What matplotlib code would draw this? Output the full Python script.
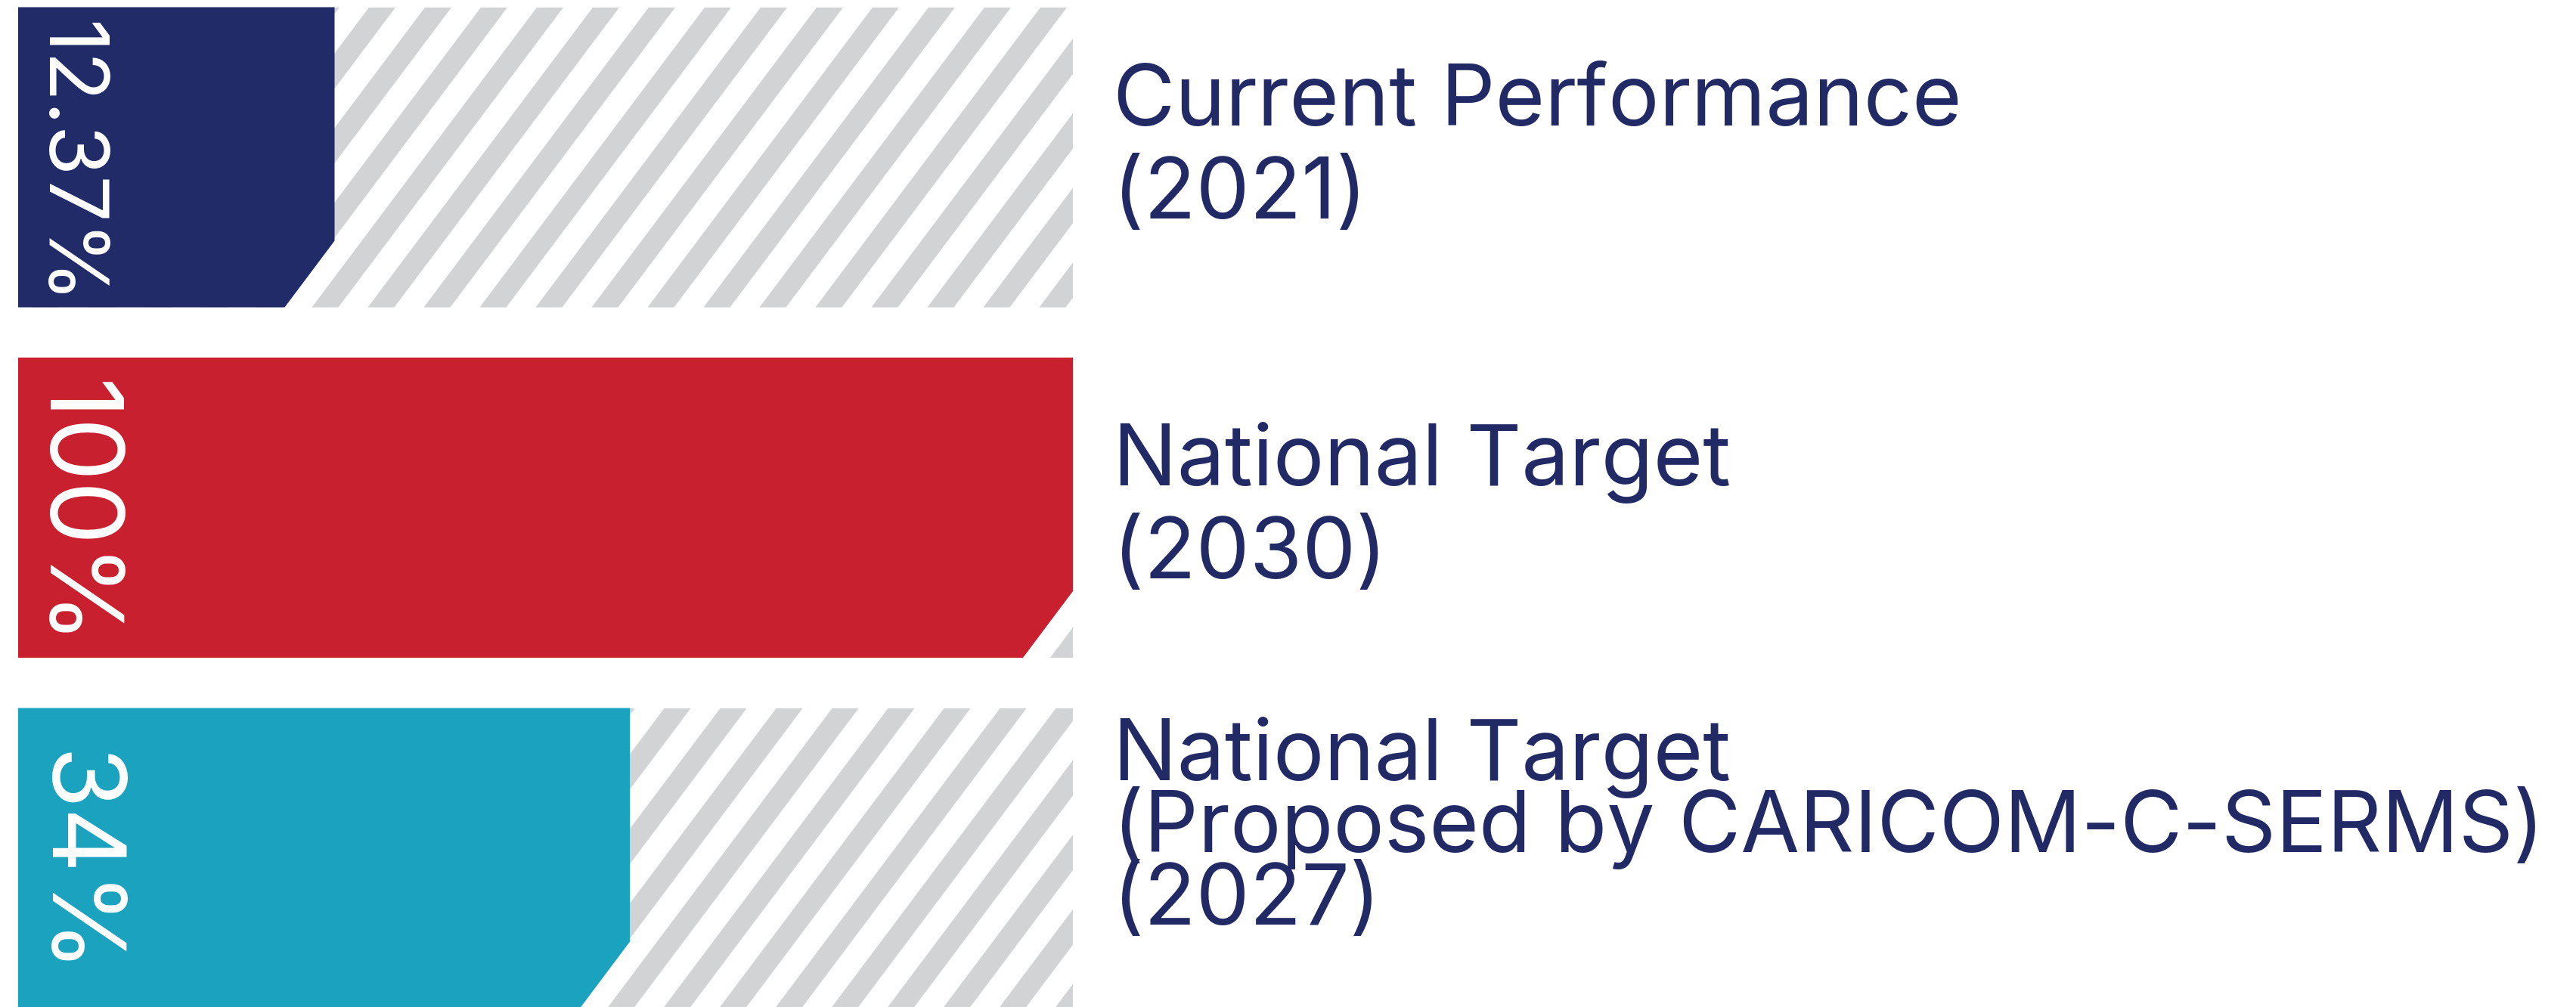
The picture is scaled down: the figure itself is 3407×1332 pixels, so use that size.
import numpy as np
import matplotlib
matplotlib.use("Agg")
import matplotlib.pyplot as plt
from matplotlib.patches import Polygon, Rectangle

# ---- data ----
categories = ["Current Performance\n(2021)",
              "National Target\n(2030)",
              "National Target\n(Proposed by CARICOM-C-SERMS)\n(2027)"]
values = [12.37, 100, 34]              # printed value, %
value_labels = ["12.37%", "100%", "34%"]
shown_length = [30, 100, 58]           # drawn bar length on the 0-100 track (not to scale)
bar_colors = ["#202B67", "#C8202F", "#1AA2BE"]

# ---- layout ----
W, H = 3407, 1332
fig = plt.figure(figsize=(W / 100, H / 100), dpi=100)
fig.patch.set_facecolor("white")

x0_px, track_px = 24, 1395            # track left edge / width in pixels
pitch_px = 463.5                      # distance between bar centres
first_c_px = 208
ax = fig.add_axes([x0_px / W, 0, track_px / W, 1])
ax.set_xlim(0, 100)
ax.set_ylim((H - first_c_px) / pitch_px, -first_c_px / pitch_px)
ax.axis("off")

ux = track_px / 100.0                 # px per x unit
uy = pitch_px                         # px per y unit
hh = 397 / 2 / uy                     # half bar height
cut_dx, cut_dy = 66 / ux, 88 / uy     # slanted corner
k = (66 / 88) * uy / ux               # stripe slope in data units
stripe_w, stripe_p, gap = 35 / ux, 74 / ux, 36 / ux
stripe_col = "#D1D3D4"
text_col = "#212A64"

FONT = "Inter"

label_first = [-42, -29.5, -102.5]     # baseline of first label line vs bar centre, px
label_step = [123, 123, 95]

for i, (lab, val, ln, col) in enumerate(zip(categories, value_labels, shown_length, bar_colors)):
    top, bot = i - hh, i + hh
    track = Rectangle((0, top), 100, 2 * hh, facecolor="white", edgecolor="none", zorder=1)
    ax.add_patch(track)

    # diagonal stripes behind the bar
    start = ln - cut_dx + gap
    n_lo = int(np.floor((0 - k * 2 * hh - start) / stripe_p)) - 1
    n_hi = int(np.ceil((100 - start) / stripe_p)) + 1
    for n in range(n_lo, n_hi):
        xb = start + n * stripe_p
        pts = [(xb, bot), (xb + stripe_w, bot),
               (xb + stripe_w + k * 2 * hh, top), (xb + k * 2 * hh, top)]
        s = Polygon(pts, closed=True, facecolor=stripe_col, edgecolor="none", zorder=2)
        ax.add_patch(s)
        s.set_clip_path(track)

    # bar with cut corner
    bar = Polygon([(0, top), (ln, top), (ln, bot - cut_dy), (ln - cut_dx, bot), (0, bot)],
                  closed=True, facecolor=col, edgecolor="none", zorder=3)
    ax.add_patch(bar)

    # value label, rotated
    fs = 78 if len(val) > 4 else 96
    ax.text((60 - x0_px) / ux, i + 9 / uy, val, rotation=-90, rotation_mode="anchor",
            ha="center", va="baseline", color="white", fontsize=fs, family=FONT, zorder=4)

    # category label on the right
    for j, line in enumerate(lab.split("\n")):
        yb = i + (label_first[i] + j * label_step[i]) / uy
        ax.text((1472 - x0_px) / ux, yb, line, ha="left", va="baseline", color=text_col,
                fontsize=81, family=FONT, clip_on=False, zorder=4)

fig.savefig("out.png", dpi=100, facecolor="white")
